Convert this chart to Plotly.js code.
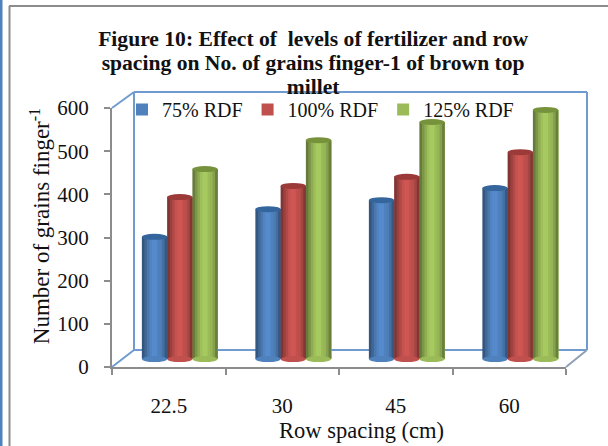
<!DOCTYPE html>
<html>
<head>
<meta charset="utf-8">
<script src="https://cdn.plot.ly/plotly-3.0.1.min.js"></script>
<style>html,body{margin:0;padding:0;background:#fff}</style>
</head>
<body>
<div id="chart" style="width:608px;height:446px"></div>
<script>
const categories = ["22.5", "30", "45", "60"];
const seriesNames = ["75% RDF", "100% RDF", "125% RDF"];
const rdf75 = [283, 347, 368, 396];
const rdf100 = [375, 401, 422, 479];
const rdf125 = [440, 507, 549, 577];
const tickValues = [0, 100, 200, 300, 400, 500, 600];
const seriesColors = [[79,129,189],[192,80,77],[155,187,89]];
const capColors = ["#34659c","#9b3a38","#76933c"];
const shade = [0.66,0.8,0.92,1.02,1.08,1.08,1.03,0.97,0.86,0.68];

const W = 608, H = 446;
const px = v => v / W, py = v => 1 - v / H;
const allSeries = [rdf75, rdf100, rdf125];
const barW = 0.2225;
const tone = (c, f) => `rgb(${c.map(v => Math.min(255, Math.round(v * f))).join(",")})`;

const traces = [{
  x: categories, y: tickValues.slice(0, 4), type: "scatter", mode: "none",
  xaxis: "x", yaxis: "y", showlegend: false, hoverinfo: "skip"
}];
const shapes = [];

allSeries.forEach((vals, s) => {
  const left = -1.5 * barW + s * barW;
  shade.forEach((f, k) => {
    const o = left + k * barW / shade.length;
    traces.push({
      type: "bar", x: categories, y: vals, name: seriesNames[s],
      xaxis: "x2", yaxis: "y2",
      offset: o, width: barW - k * barW / shade.length,
      marker: { color: tone(seriesColors[s], f === 1.03 ? 1 : f), line: { width: 0 } },
      showlegend: k === 6, legendgroup: seriesNames[s], hoverinfo: "skip"
    });
  });
});

allSeries.forEach((vals, s) => {
  const left = -1.5 * barW + s * barW;
  vals.forEach((v, i) => {
    const base = { type: "circle", xref: "x2", yref: "y2", xsizemode: "scaled", ysizemode: "pixel",
      x0: i + left, x1: i + left + barW, line: { width: 0 } };
    shapes.push(Object.assign({}, base, { yanchor: 0, y0: -3, y1: 3, fillcolor: tone(seriesColors[s], 1.0), layer: "above" }));
    shapes.push(Object.assign({}, base, { yanchor: v, y0: -3, y1: 3, fillcolor: capColors[s], layer: "above" }));
  });
});

const wall = "#6f9bd0";
const line = (x0, y0, x1, y1, color, width) => ({
  type: "line", xref: "paper", yref: "paper",
  x0: px(x0), y0: py(y0), x1: px(x1), y1: py(y1),
  line: { color, width }, layer: "below"
});
const frame = [
  line(1, 0, 1, 446, "#4f81bd", 3),
  line(9.5, 6, 9.5, 446, "#8c8c8c", 2),
  line(9, 6, 608, 6, "#8c8c8c", 2),
  line(134, 92, 587, 92, wall, 2),
  line(134, 92, 134, 350, wall, 2),
  line(587, 92, 587, 350, wall, 2),
  line(134, 350, 587, 350, wall, 2),
  line(112, 108, 134, 92, wall, 2),
  line(112, 367, 134, 350, wall, 2),
  line(566, 367, 587, 350, "#8f9fb5", 2)
];

const serif = "'Liberation Serif', serif";
const pad = n => "\u200B" + "\u00A0".repeat(n);
const layout = {
  width: W, height: H,
  margin: { l: 0, r: 0, t: 0, b: 0 },
  paper_bgcolor: "#ffffff", plot_bgcolor: "rgba(0,0,0,0)",
  barmode: "overlay",
  showlegend: true,
  title: {
    text: '<span style="font-size:21.6px"><b>Figure 10: Effect of  levels of fertilizer and row<br>spacing on No. of grains finger-1 of brown top<br>millet</b></span>',
    font: { family: serif, size: 18.5, color: "#111" },
    x: 0.515, xanchor: "center", y: 0.897, yanchor: "top"
  },
  legend: {
    orientation: "h", x: px(122), y: py(90), xanchor: "left", yanchor: "top",
    font: { family: serif, size: 20, color: "#111" },
    bgcolor: "rgba(0,0,0,0)", itemclick: false, itemdoubleclick: false,
    traceorder: "normal"
  },
  xaxis: {
    domain: [px(112), px(566)], range: [-0.5, 3.5], type: "category",
    categoryorder: "array", categoryarray: categories, anchor: "y", automargin: "width",
    tickson: "boundaries", ticks: "outside", ticklen: 6, tickwidth: 2, tickcolor: "#8c8c8c",
    showline: true, linecolor: "#8c8c8c", linewidth: 2, showgrid: false, zeroline: false,
    ticklabelstandoff: 19,
    tickfont: { family: serif, size: 21, color: "#111" },
    title: { text: pad(8) + "Row spacing (cm)", standoff: 5, font: { family: serif, size: 22.5, color: "#111" } }
  },
  yaxis: {
    domain: [py(367), py(108)], range: [0, 600], anchor: "x", automargin: "width",
    tickvals: tickValues, ticks: "outside", ticklen: 6, tickwidth: 2, tickcolor: "#8c8c8c",
    showline: true, linecolor: "#8c8c8c", linewidth: 2, showgrid: false, zeroline: false,
    ticklabelstandoff: 11,
    tickfont: { family: serif, size: 21, color: "#111" },
    title: { text: pad(4) + "Number of grains finger<sup>-1</sup>", standoff: 1, font: { family: serif, size: 23, color: "#111" } }
  },
  xaxis2: {
    domain: [px(123), px(577)], range: [-0.5, 3.5], type: "category",
    categoryorder: "array", categoryarray: categories, anchor: "y2", visible: false
  },
  yaxis2: {
    domain: [py(367), py(92)], range: [-18.5, 618.5], anchor: "x2", visible: false
  },
  shapes: frame.concat(shapes)
};

Plotly.newPlot("chart", traces, layout, { displayModeBar: false, staticPlot: true });
</script>
</body>
</html>
